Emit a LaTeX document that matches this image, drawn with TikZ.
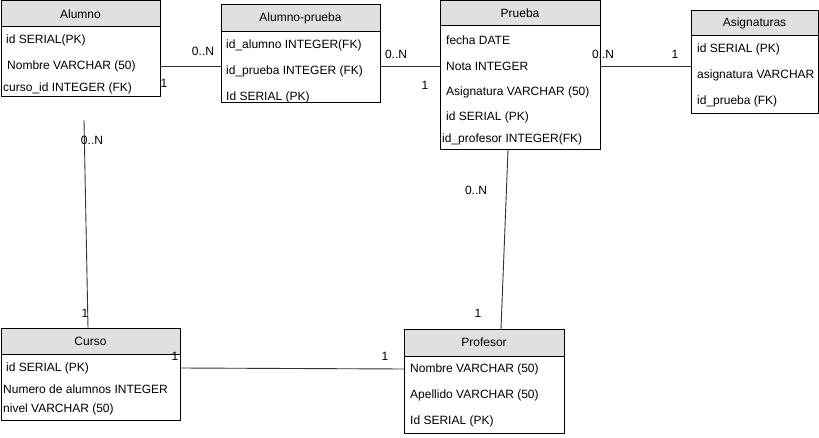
\documentclass[tikz,border=0pt]{standalone}
\usepackage{fontspec}
\setmainfont{Liberation Sans}
\begin{document}
\begin{tikzpicture}[x=1pt,y=-1pt,
  box/.style={draw=black,line width=1pt,anchor=north west,inner sep=0,outer sep=0},
  head/.style={draw=black,fill=headgray,line width=1pt,anchor=north west,inner sep=0,outer sep=0},
  title/.style={font=\fontsize{12}{14}\selectfont,inner sep=0,anchor=center},
  row/.style={font=\fontsize{12}{14}\selectfont,inner sep=0,anchor=west},
  card/.style={font=\fontsize{12}{14}\selectfont,inner sep=0,anchor=center},
  conn/.style={draw=black!80,line width=0.9pt}]
\definecolor{headgray}{HTML}{E0E0E0}
\useasboundingbox (0,0) rectangle (819,438);
\fill[white] (0,0) rectangle (819,438);
% Alumno
\node[head,minimum width=159pt,minimum height=26pt] (ah) at (1,1) {};
\node[box,minimum width=159pt,minimum height=96pt] (alumno) at (1,1) {};
\node[title] at (ah.center) {Alumno};
\node[row] (a1) at (6,40) {id SERIAL(PK)};
\node[row] (a2) at (7,66) {Nombre VARCHAR (50)};
\node[row] (a3) at (3,88) {curso\_id INTEGER (FK)};
% Alumno-prueba
\node[head,minimum width=159pt,minimum height=27pt] (aph) at (221,5) {};
\node[box,minimum width=159pt,minimum height=98pt] (ap) at (221,5) {};
\node[title] at (aph.center) {Alumno-prueba};
\node[row] (ap1) at (226,45) {id\_alumno INTEGER(FK)};
\node[row] (ap2) at (226,71) {id\_prueba INTEGER (FK)};
\node[row] (ap3) at (226,97) {Id SERIAL (PK)};
% Prueba
\node[head,minimum width=160pt,minimum height=25pt] (ph) at (440,1) {};
\node[box,minimum width=160pt,minimum height=149pt] (prueba) at (440,1) {};
\node[title] at (ph.center) {Prueba};
\node[row] (p1) at (446,40) {fecha DATE};
\node[row] (p2) at (446,66) {Nota INTEGER};
\node[row] (p3) at (446,92) {Asignatura VARCHAR (50)};
\node[row] (p4) at (446,117) {id SERIAL (PK)};
\node[row] (p5) at (442,139) {id\_profesor INTEGER(FK)};
% Asignaturas
\node[head,minimum width=127pt,minimum height=25pt] (sh) at (691,11) {};
\node[box,minimum width=127pt,minimum height=103pt] (asig) at (691,11) {};
\node[title] at (sh.center) {Asignaturas};
\begin{scope}
\clip (691,11) rectangle (814,114);
\node[row] (s1) at (697,49) {id SERIAL (PK)};
\node[row] (s2) at (697,75) {asignatura VARCHAR};
\node[row] (s3) at (697,101) {id\_prueba (FK)};
\end{scope}
% Curso
\node[head,minimum width=179pt,minimum height=26pt] (ch) at (1,328) {};
\node[box,minimum width=179pt,minimum height=92pt] (curso) at (1,328) {};
\node[title] at (ch.center) {Curso};
\node[row] (c1) at (6,368) {id SERIAL (PK)};
\node[row] (c2) at (3,389) {Numero de alumnos INTEGER};
\node[row] (c3) at (3,409) {nivel VARCHAR (50)};
% Profesor
\node[head,minimum width=160pt,minimum height=27pt] (prh) at (404,329) {};
\node[box,minimum width=160pt,minimum height=104pt] (prof) at (404,329) {};
\node[title] at (prh.center) {Profesor};
\node[row] (r1) at (410,369) {Nombre VARCHAR (50)};
\node[row] (r2) at (410,395) {Apellido VARCHAR (50)};
\node[row] (r3) at (410,421) {Id SERIAL (PK)};
% connectors
\draw[conn] (alumno.east |- a2) -- (ap.west |- a2);
\draw[conn] (ap.east |- p2) -- (prueba.west |- p2);
\draw[conn] (prueba.east |- p2) -- (asig.west |- p2);
\coordinate (aend) at (84,120);
\draw[conn] (aend) -- ([xshift=-2.5pt]curso.north);
\draw[conn] (curso.east |- c1) -- (prof.west |- r1);
\draw[conn] ([xshift=-12pt]prueba.south) -- ([xshift=17pt]prof.north);
% cardinalities
\node[card] at (203,51) {0..N};
\node[card] at (164,83) {1};
\node[card] at (396,54) {0..N};
\node[card] at (425,85) {1};
\node[card] at (603,54) {0..N};
\node[card] at (675,54) {1};
\node[card] at (92,140) {0..N};
\node[card] at (85,313) {1};
\node[card] at (175,356) {1};
\node[card] at (385,356) {1};
\node[card] at (476,190) {0..N};
\node[card] at (478,313) {1};
\end{tikzpicture}
\end{document}
